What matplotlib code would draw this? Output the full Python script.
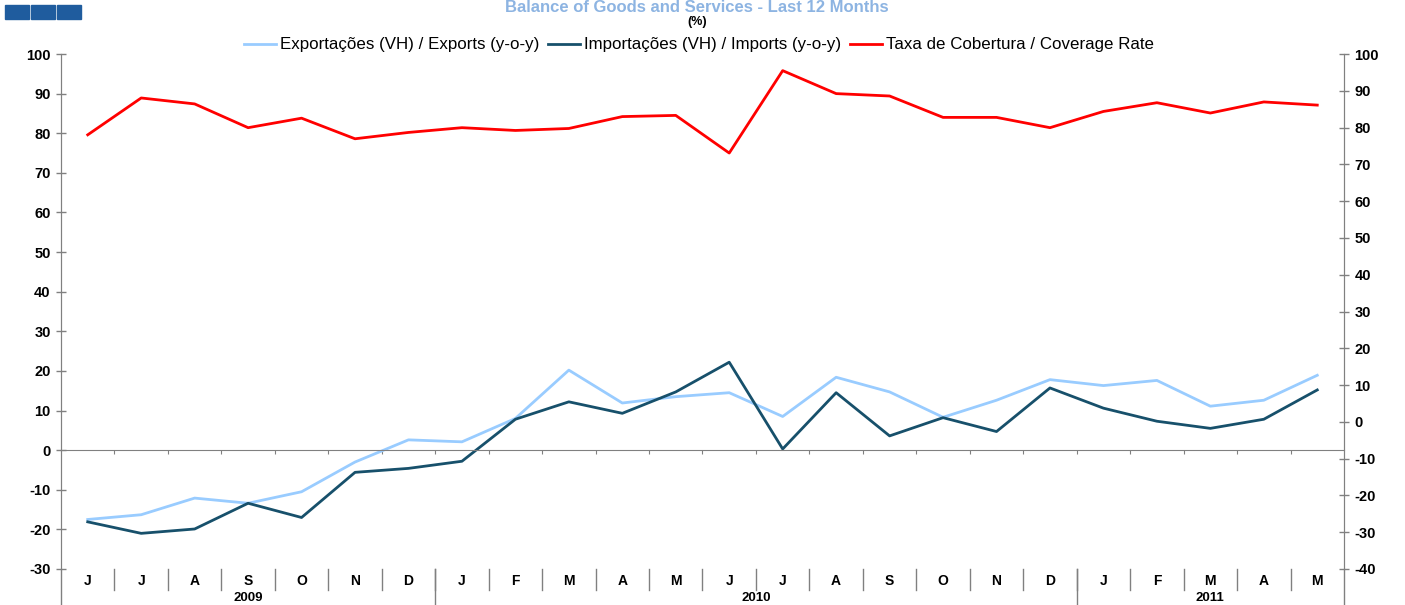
import matplotlib
matplotlib.use("Agg")
import matplotlib.pyplot as plt
from matplotlib.patches import Rectangle
import matplotlib.transforms as mtransforms

plt.rcParams['font.family'] = ['Liberation Sans', 'DejaVu Sans']
plt.rcParams['axes.unicode_minus'] = False

# meses jun/2009 - mai/2011
months = ['J', 'J', 'A', 'S', 'O', 'N', 'D',
          'J', 'F', 'M', 'A', 'M', 'J', 'J', 'A', 'S', 'O', 'N', 'D',
          'J', 'F', 'M', 'A', 'M']
years = ['2009', '2010', '2011']
year_spans = [(0, 7), (7, 19), (19, 24)]

exports = [-17.5, -16.3, -12.1, -13.4, -10.5, -3.0, 2.6,
           2.1, 8.0, 20.2, 11.9, 13.5, 14.5, 8.5, 18.4, 14.7, 8.3, 12.6, 17.8,
           16.3, 17.6, 11.1, 12.6, 18.9]
imports = [-18.1, -21.0, -19.9, -13.4, -17.0, -5.6, -4.6,
           -2.8, 7.8, 12.2, 9.3, 14.7, 22.2, 0.3, 14.5, 3.6, 8.2, 4.7, 15.7,
           10.6, 7.3, 5.5, 7.8, 15.2]
coverage = [79.6, 88.9, 87.4, 81.4, 83.8, 78.6, 80.2,
            81.4, 80.7, 81.2, 84.2, 84.5, 75.0, 95.8, 90.0, 89.4, 84.0, 84.0, 81.4,
            85.5, 87.7, 85.1, 87.9, 87.1]

labels = ['Exportações (VH) / Exports (y-o-y)',
          'Importações (VH) / Imports (y-o-y)',
          'Taxa de Cobertura / Coverage Rate']

W, H = 1405, 605
fig = plt.figure(figsize=(W / 100, H / 100), dpi=100)
x0, x1, y0, y1 = 61, 1344, 54, 569
ax = fig.add_axes([x0 / W, 1 - y1 / H, (x1 - x0) / W, (y1 - y0) / H])

grey = '#808080'
x = list(range(len(months)))
ax.plot(x, exports, color='#99CCFF', lw=2, label=labels[0])
ax.plot(x, imports, color='#17506B', lw=2, label=labels[1])
ax.plot(x, coverage, color='#FF0000', lw=2, label=labels[2])

ax.set_xlim(-0.5, len(months) - 0.5)
ax.set_ylim(-30, 100)
ax.set_yticks(range(-30, 101, 10))

ax2 = ax.twinx()
ax2.set_ylim(-40, 100)
ax2.set_yticks(range(-40, 101, 10))

for a in (ax, ax2):
    a.spines['top'].set_visible(False)
    for s in ('left', 'right', 'bottom'):
        a.spines[s].set_color(grey)
    a.tick_params(axis='y', direction='inout', length=7, width=1, color=grey,
                  labelsize=10.5, pad=4)
    for t in a.get_yticklabels():
        t.set_fontweight('bold')
ax2.spines['bottom'].set_visible(False)

# eixo horizontal no zero
ax.spines['bottom'].set_position(('data', 0))
ax.set_xticks([i + 0.5 for i in range(len(months) - 1)])
ax.set_xticklabels([])
ax.tick_params(axis='x', direction='out', length=3, color=grey)

# categorias por baixo da área do gráfico
trans = mtransforms.blended_transform_factory(ax.transData, ax.transAxes)
ph = y1 - y0
for i, m in enumerate(months):
    ax.text(i, -12 / ph, m, transform=trans, ha='center', va='center',
            fontsize=10, fontweight='bold')
for i in range(1, len(months)):
    ax.plot([i - 0.5, i - 0.5], [0, -21 / ph], transform=trans, color=grey,
            lw=1, clip_on=False)
for (a, b), yr in zip(year_spans, years):
    ax.text((a + b - 1) / 2, -29 / ph, yr, transform=trans, ha='center',
            va='center', fontsize=9.5, fontweight='bold')
    if a > 0:
        ax.plot([a - 0.5, a - 0.5], [0, -40 / ph], transform=trans, color=grey,
                lw=1, clip_on=False)
for xx in (0, 1):
    ax.plot([xx, xx], [0, -40 / ph], transform=ax.transAxes, color=grey,
            lw=1, clip_on=False)

# legenda
ax.legend(loc='center', bbox_to_anchor=(699 / W, 1 - 45 / H),
          bbox_transform=fig.transFigure, ncol=3, frameon=False,
          fontsize=12.2, handlelength=1.9, handletextpad=0.25,
          columnspacing=0.5)

# título e unidade
fig.text(697 / W, 1 - 8 / H, 'Balance of Goods and Services - Last 12 Months',
         ha='center', va='center', fontsize=12, fontweight='bold',
         color='#8DB4E2')
fig.text(697 / W, 1 - 22 / H, '(%)', ha='center', va='center',
         fontsize=9, fontweight='bold')

# logótipo
for k in range(3):
    fig.patches.append(Rectangle(((5 + k * 26) / W, 1 - 19 / H), 24 / W, 14 / H,
                                 transform=fig.transFigure, color='#1F5C9E'))

fig.savefig('out.png', dpi=100)
